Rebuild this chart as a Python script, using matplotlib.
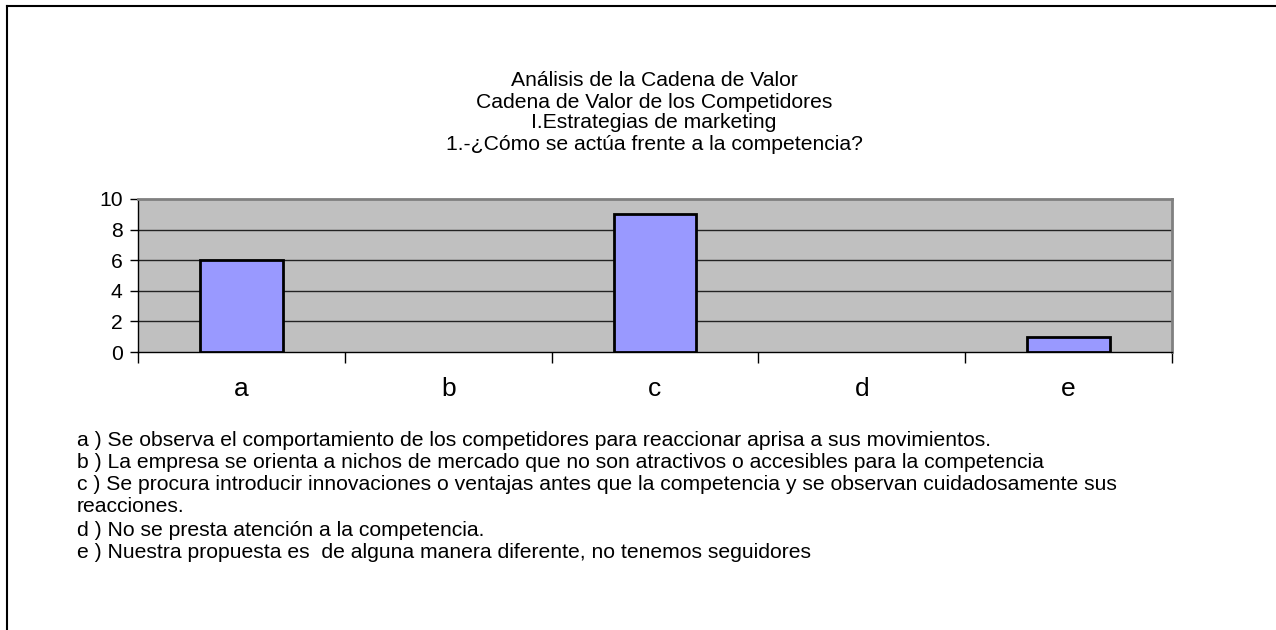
import matplotlib
matplotlib.use("Agg")
import matplotlib.pyplot as plt
from matplotlib.lines import Line2D

plt.rcParams['font.family'] = ['Liberation Sans', 'DejaVu Sans']

categories = ['a', 'b', 'c', 'd', 'e']
values = [6, 0, 9, 0, 1]
yticks = [0, 2, 4, 6, 8, 10]
title_lines = [
    "Análisis de la Cadena de Valor",
    "Cadena de Valor de los Competidores",
    "I.Estrategias de marketing",
    "1.-¿Cómo se actúa frente a la competencia?",
]
notes = [
    "a ) Se observa el comportamiento de los competidores para reaccionar aprisa a sus movimientos.",
    "b ) La empresa se orienta a nichos de mercado que no son atractivos o accesibles para la competencia",
    "c ) Se procura introducir innovaciones o ventajas antes que la competencia y se observan cuidadosamente sus",
    "reacciones.",
    "d ) No se presta atención a la competencia.",
    "e ) Nuestra propuesta es  de alguna manera diferente, no tenemos seguidores",
]

W, H = 1276, 630
FS = 15.2
fig = plt.figure(figsize=(W / 100, H / 100), dpi=100)
fig.patch.set_facecolor('white')

# outer frame (top and left visible)
fig.add_artist(Line2D([7 / W, 7 / W], [0, 1 - 6 / H], transform=fig.transFigure, color='black', lw=1.5))
fig.add_artist(Line2D([7 / W, 1], [1 - 6 / H, 1 - 6 / H], transform=fig.transFigure, color='black', lw=1.5))

left, right, top, bottom = 138, 1172, 199, 352
ax = fig.add_axes([left / W, 1 - bottom / H, (right - left) / W, (bottom - top) / H])
ax.set_facecolor('#c0c0c0')

x = list(range(len(categories)))
bars = ax.bar(x, values, width=0.4, color='#9999ff', edgecolor='black', linewidth=2, zorder=3)
for b, v in zip(bars, values):
    if v == 0:
        b.set_visible(False)
ax.set_xlim(-0.5, len(categories) - 0.5)
ax.set_ylim(0, 10)
ax.set_yticks(yticks)
ax.set_yticklabels([str(t) for t in yticks], fontsize=FS)
for t in yticks[1:-1]:
    ax.axhline(t, color='#222222', lw=1, zorder=1)

ax.set_xticks([i - 0.5 for i in range(len(categories) + 1)], minor=False)
ax.set_xticklabels([''] * (len(categories) + 1))
ax.set_xticks(x, minor=True)
ax.set_xticklabels(categories, minor=True, fontsize=19)
ax.tick_params(axis='x', which='minor', length=0, pad=18)
ax.tick_params(axis='x', which='major', length=8, color='black', width=1)
ax.tick_params(axis='y', length=6, color='black', width=1, pad=5)

for s in ['top', 'right']:
    ax.spines[s].set_color('#808080')
    ax.spines[s].set_linewidth(2)
ax.spines['left'].set_color('black')
ax.spines['bottom'].set_color('black')
ax.spines['left'].set_linewidth(1)
ax.spines['bottom'].set_linewidth(1)

ty = [81, 102, 123, 144]
for line, yy in zip(title_lines, ty):
    fig.text(654 / W, 1 - yy / H, line, ha='center', va='center', fontsize=FS)

ny = [440, 462, 485, 507, 530, 552, 574]
for line, yy in zip(notes, ny):
    fig.text(77 / W, 1 - yy / H, line, ha='left', va='center', fontsize=FS)

fig.savefig('out.png', dpi=100)
